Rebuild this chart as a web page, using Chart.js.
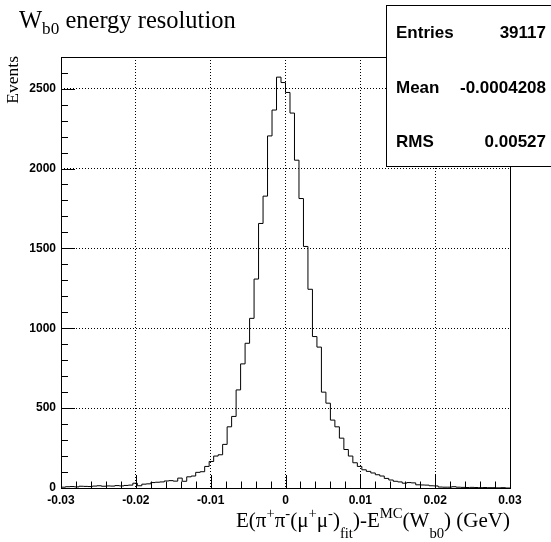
<!DOCTYPE html>
<html>
<head>
<meta charset="utf-8">
<script src="https://cdn.jsdelivr.net/npm/chart.js@4/dist/chart.umd.min.js"></script>
<style>
  html, body { margin: 0; padding: 0; background: #fff; }
  #wrap { width: 551px; height: 542px; }
</style>
</head>
<body>
<div id="wrap"><canvas id="chart-hist" width="551" height="542"></canvas></div>
<script>
// histogram binning
const histLow = -0.03;
const binWidth = 0.0006;
// bin contents (100 bins)
const counts = [
  5, 8, 9, 7, 11, 10, 9, 12, 14, 11, 13, 12, 15, 13, 16, 18,
  30, 14, 24, 26, 34, 36, 38, 44, 46, 43, 62, 42, 70, 75, 98, 102,
  135, 166, 200, 208, 273, 383, 448, 614, 777, 906, 1062, 1308, 1656, 1827,
  2204, 2366, 2572, 2538, 2476, 2347, 2052, 1812, 1512, 1244, 948, 882,
  600, 531, 425, 383, 312, 241, 200, 158, 135, 114, 104, 94, 83, 75,
  60, 50, 42, 38, 30, 34, 32, 20, 19, 18, 14, 13, 6, 5, 5, 8,
  5, 4, 3, 4, 3, 2, 3, 2, 2, 1, 2, 0
];
const statsNames = ['Entries', 'Mean', 'RMS'];
const statsValues = ['39117', '-0.0004208', '0.00527'];
const yMax = 2698;
const yMinorStep = 100;

const serif = '"Liberation Serif", "Times New Roman", serif';
const sans = '"Liberation Sans", Arial, Helvetica, sans-serif';

// step points from bin edges
const points = [{ x: histLow, y: 0 }];
counts.forEach((c, i) => points.push({ x: histLow + i * binWidth, y: c }));
const histHigh = histLow + counts.length * binWidth;
points.push({ x: histHigh, y: counts[counts.length - 1] });
points.push({ x: histHigh, y: 0 });

// y tick positions (minor every 100, labels every 500)
const yTicks = [];
for (let v = 0; v <= yMax; v += yMinorStep) yTicks.push(v);

function isMajorX(v) { return Math.round(v * 1000) % 10 === 0; }
function isMajorY(v) { return Math.round(v) % 500 === 0; }

// draws text runs with sub/superscripts, right or left aligned
function drawRich(ctx, parts, x, base, size, align) {
  const widths = parts.map(p => {
    ctx.font = (p[1] ? size * 0.7 : size) + 'px ' + serif;
    return ctx.measureText(p[0]).width;
  });
  const total = widths.reduce((a, b) => a + b, 0);
  let cx = align === 'right' ? x - total : x;
  ctx.textAlign = 'left';
  ctx.textBaseline = 'alphabetic';
  parts.forEach((p, i) => {
    ctx.font = (p[1] ? size * 0.7 : size) + 'px ' + serif;
    let dy = 0;
    if (p[1] === 'sub') dy = p[2] !== undefined ? p[2] : size * 0.55;
    if (p[1] === 'sup') dy = -size * 0.45;
    ctx.fillText(p[0], cx, base + dy);
    cx += widths[i];
  });
}

const decorPlugin = {
  id: 'rootDecor',
  afterDraw(chart) {
    const { ctx, chartArea: a, scales } = chart;
    ctx.save();
    ctx.strokeStyle = '#000';
    ctx.lineWidth = 1;
    // inward ticks
    ctx.beginPath();
    scales.x.ticks.forEach(t => {
      const px = Math.round(scales.x.getPixelForValue(t.value)) + 0.5;
      const len = isMajorX(t.value) ? 13 : 6.5;
      ctx.moveTo(px, a.bottom);
      ctx.lineTo(px, a.bottom - len);
    });
    scales.y.ticks.forEach(t => {
      const py = Math.round(scales.y.getPixelForValue(t.value)) + 0.5;
      const len = isMajorY(t.value) ? 14 : 7;
      ctx.moveTo(a.left, py);
      ctx.lineTo(a.left + len, py);
    });
    ctx.stroke();
    // frame
    ctx.strokeRect(Math.round(a.left) + 0.5, Math.round(a.top) + 0.5,
      Math.round(a.right - a.left), Math.round(a.bottom - a.top));

    ctx.fillStyle = '#000';
    // title
    drawRich(ctx, [['W'], ['b0', 'sub', 6], [' energy resolution']], 19, 28, 24.5, 'left');
    // x title
    drawRich(ctx, [
      ['E(\u03c0'], ['+', 'sup'], ['\u03c0'], ['-', 'sup'], ['(\u03bc'], ['+', 'sup'],
      ['\u03bc'], ['-', 'sup'], [')'], ['fit', 'sub', 11], [')-E'], ['MC', 'sup'],
      ['(W'], ['b0', 'sub', 11], [') (GeV)']
    ], 510, 527, 21, 'right');
    // y title
    ctx.save();
    ctx.translate(17.5, 56);
    ctx.rotate(-Math.PI / 2);
    ctx.font = '17.5px ' + serif;
    ctx.textAlign = 'right';
    ctx.textBaseline = 'alphabetic';
    ctx.fillText('Events', 0, 0);
    ctx.restore();

    // stats box
    ctx.fillStyle = '#fff';
    ctx.fillRect(387, 5, 170, 162);
    ctx.strokeRect(386.5, 5.5, 170, 161);
    ctx.fillStyle = '#000';
    ctx.font = 'bold 17px ' + sans;
    const rows = [38, 92.5, 146.5];
    statsNames.forEach((n, i) => {
      ctx.textAlign = 'left';
      ctx.fillText(n, 396, rows[i]);
      ctx.textAlign = 'right';
      ctx.fillText(statsValues[i], 546, rows[i]);
    });
    ctx.restore();
  }
};

const ctx = document.getElementById('chart-hist').getContext('2d');
new Chart(ctx, {
  type: 'line',
  data: {
    datasets: [{
      data: points,
      borderColor: '#000',
      borderWidth: 1,
      pointRadius: 0,
      stepped: true,
      fill: false,
    }],
  },
  options: {
    responsive: false,
    animation: false,
    layout: { padding: { left: 0, top: 57, right: 41, bottom: 0 } },
    plugins: { legend: { display: false }, tooltip: { enabled: false } },
    scales: {
      x: {
        type: 'linear',
        min: histLow,
        max: histHigh,
        afterFit: s => { s.height = 54; },
        border: { display: false, dash: [1, 2] },
        grid: {
          drawTicks: false,
          color: c => (c.tick && isMajorX(c.tick.value) && Math.abs(c.tick.value) < 0.029) ? '#000' : 'rgba(0,0,0,0)',
        },
        ticks: {
          stepSize: 0.002,
          maxTicksLimit: 100,
          autoSkip: false,
          maxRotation: 0,
          padding: 5,
          color: '#000',
          font: { family: sans, size: 12, weight: 'bold' },
          callback: v => {
            if (!isMajorX(v)) return '';
            return Math.abs(v) < 1e-9 ? '0' : v.toFixed(2);
          },
        },
      },
      y: {
        min: 0,
        max: yMax,
        afterFit: s => { s.width = 61; },
        afterBuildTicks: s => { s.ticks = yTicks.map(v => ({ value: v })); },
        border: { display: false, dash: [1, 2] },
        grid: {
          drawTicks: false,
          color: c => (c.tick && isMajorY(c.tick.value) && c.tick.value > 0) ? '#000' : 'rgba(0,0,0,0)',
        },
        ticks: {
          autoSkip: false,
          padding: 5,
          color: '#000',
          font: { family: sans, size: 12, weight: 'bold' },
          callback: v => isMajorY(v) ? String(Math.round(v)) : '',
        },
      },
    },
  },
  plugins: [decorPlugin],
});
</script>
</body>
</html>
